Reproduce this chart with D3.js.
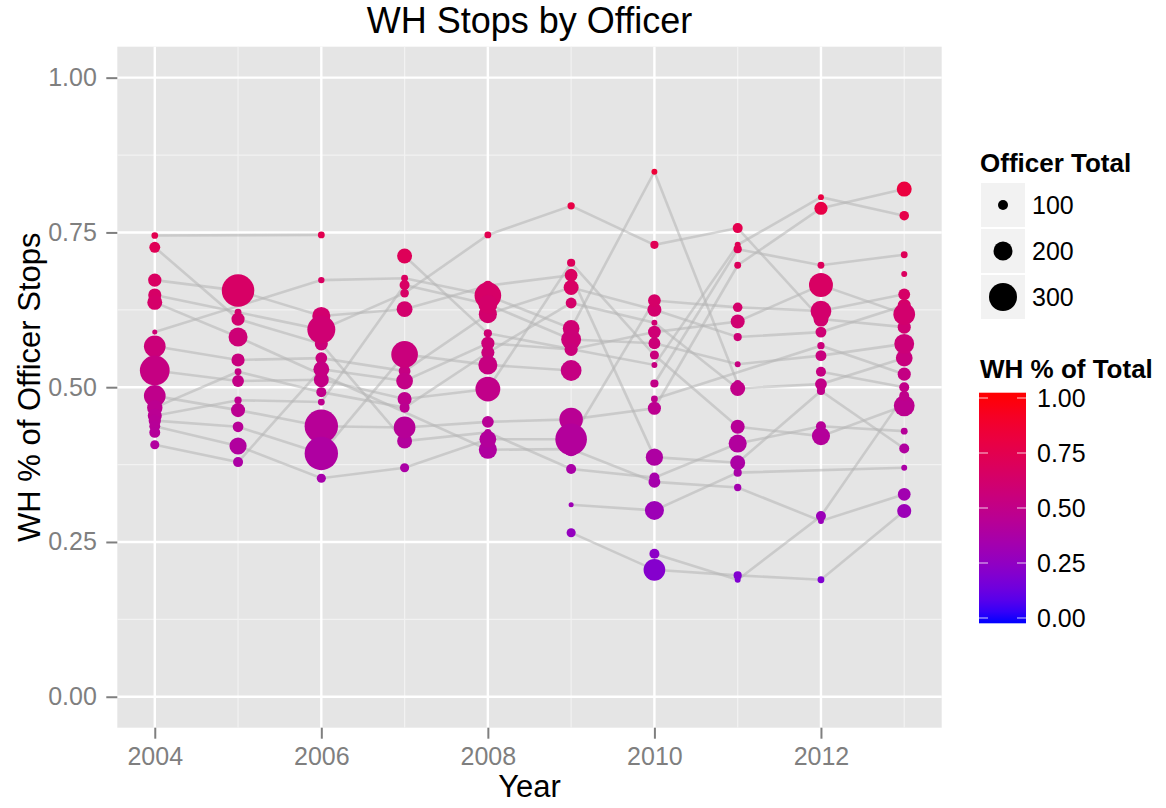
<!DOCTYPE html>
<html>
<head>
<meta charset="utf-8">
<script src="https://cdn.jsdelivr.net/npm/d3@7"></script>
<style>
	body { margin: 0; background: #fff; }
	text { font-family: "Liberation Sans", Arial, sans-serif; }
</style>
</head>
<body>
<svg id="chart"></svg>
<script>
const years = [2004, 2005, 2006, 2007, 2008, 2009, 2010, 2011, 2012, 2013];

// one row per officer, one column per year (null = no stops that year)
const whPct = [
	[.745, null, .746, null, null, null, null, null, null, null],
	[.726, .610, .570, .413, .427, .368, .354, .409, .437, .429],
	[.673, .656, .615, .626, .664, .681, .387, .378, .494, .401],
	[.649, .621, .593, .652, .746, .793, .730, .757, .610, .597],
	[.637, .581, null, null, .399, .400, .347, .338, .284, .327],
	[.589, null, .673, .676, .648, .595, .848, .506, null, null],
	[.566, .544, .547, .526, .618, .661, .625, .581, .589, .632],
	[.527, .510, .512, .481, .497, .701, .552, .436, .421, .470],
	[.486, .463, .437, .435, .444, .448, .466, .697, .789, .820],
	[.467, .525, .492, .467, .556, .636, .604, .498, .505, .547],
	[.454, .479, .476, .665, .634, .577, .571, .537, .551, .570],
	[.446, .436, .393, .553, .536, .527, null, null, null, null],
	[.437, .405, .353, .370, .416, .416, .640, .629, .623, .650],
	[.407, .379, .529, .510, .571, .561, .589, .606, .665, .618],
	[null, null, null, .712, .587, null, .536, .730, .807, .777],
	[.427, null, null, null, null, null, null, null, null, null],
	[null, null, null, null, null, .265, .205, .196, .189, .300],
	[null, null, null, null, null, .310, .301, .362, null, .370],
	[null, null, null, null, null, null, .231, .189, .292, .486],
	[null, null, null, null, null, null, .506, .723, .697, .714],
	[null, null, null, null, null, null, .481, null, .567, .521],
	[null, null, null, null, null, null, null, null, .525, .500],
	[null, null, null, null, null, null, null, null, null, .683]
];

const officerTotal = [
	[63, null, 65, null, null, null, null, null, null, null],
	[110, 135, 135, 155, 65, 100, 100, 190, 100, 65],
	[137, 350, 190, 165, 100, 130, 180, 155, 80, 100],
	[135, 65, 300, 85, 65, 70, 80, 100, 155, 135],
	[155, 200, null, null, 190, 150, 120, 70, 55, 130],
	[45, null, 60, 65, 285, 175, 55, 65, null, null],
	[230, 135, 120, 120, 190, 155, 145, 80, 110, 135],
	[320, 120, 155, 145, 265, 80, 90, 145, 190, 220],
	[230, 145, 360, 230, 120, 250, 135, 65, 135, 155],
	[160, 65, 100, 100, 135, 110, 55, 155, 120, 175],
	[145, 70, 65, 100, 200, 210, 120, 55, 110, 210],
	[125, 108, 360, 285, 200, 220, null, null, null, null],
	[110, 180, 90, 90, 175, 340, 130, 95, 220, 120],
	[90, 100, 165, 175, 135, 135, 130, 145, 255, 230],
	[null, null, null, 155, 80, null, 55, 55, 55, 95],
	[110, null, null, null, null, null, null, null, null, null],
	[null, null, null, null, null, 90, 230, 80, 65, 145],
	[null, null, null, null, null, 45, 200, 80, null, 55],
	[null, null, null, null, null, null, 100, 55, 100, 100],
	[null, null, null, null, null, null, 80, 80, 65, 65],
	[null, null, null, null, null, null, 65, null, 70, 135],
	[null, null, null, null, null, null, null, null, 100, 100],
	[null, null, null, null, null, null, null, null, null, 55]
];

const yTicks = [0, 0.25, 0.5, 0.75, 1];
const yMinor = [0.125, 0.375, 0.625, 0.875];
const xTicks = [2004, 2006, 2008, 2010, 2012];
const xMinor = [2005, 2007, 2009, 2011, 2013];
const sizeBreaks = [100, 200, 300];
const colorBreaks = [0, 0.25, 0.5, 0.75, 1];

const width = 1166;
const height = 808;
const panel = { left: 117.3, right: 941.7, top: 46.7, bottom: 727.7 };

const svg = d3.select('#chart')
	.attr('width', width)
	.attr('height', height);

const x = d3.scaleLinear()
	.domain([2003.55, 2013.45])
	.range([panel.left, panel.right]);

const y = d3.scaleLinear()
	.domain([-0.05, 1.05])
	.range([panel.bottom, panel.top]);

const r = d3.scaleLinear()
	.domain([0, 300])
	.range([0.5, 14]);

const color = d3.scaleLinear()
	.domain([0, 1])
	.range(['blue', 'red'])
	.interpolate(d3.interpolateLab);

// panel
svg.append('rect')
	.attr('x', panel.left)
	.attr('y', panel.top)
	.attr('width', panel.right - panel.left)
	.attr('height', panel.bottom - panel.top)
	.attr('fill', '#E5E5E5');

const grid = svg.append('g');
grid.selectAll('.ymin').data(yMinor).join('line')
	.attr('x1', panel.left).attr('x2', panel.right)
	.attr('y1', d => y(d)).attr('y2', d => y(d))
	.attr('stroke', '#F2F2F2').attr('stroke-width', 1.2);
grid.selectAll('.xmin').data(xMinor).join('line')
	.attr('y1', panel.top).attr('y2', panel.bottom)
	.attr('x1', d => x(d)).attr('x2', d => x(d))
	.attr('stroke', '#F2F2F2').attr('stroke-width', 1.2);
grid.selectAll('.ymaj').data(yTicks).join('line')
	.attr('x1', panel.left).attr('x2', panel.right)
	.attr('y1', d => y(d)).attr('y2', d => y(d))
	.attr('stroke', '#fff').attr('stroke-width', 2.4);
grid.selectAll('.xmaj').data(xTicks).join('line')
	.attr('y1', panel.top).attr('y2', panel.bottom)
	.attr('x1', d => x(d)).attr('x2', d => x(d))
	.attr('stroke', '#fff').attr('stroke-width', 2.4);

// officers
const officers = whPct.map((row, i) => row
	.map((v, j) => ({ year: years[j], pct: v, total: officerTotal[i][j] }))
	.filter(d => d.pct !== null));

const line = d3.line()
	.x(d => x(d.year))
	.y(d => y(d.pct));

svg.append('g').selectAll('path')
	.data(officers.filter(o => o.length > 1))
	.join('path')
	.attr('d', line)
	.attr('fill', 'none')
	.attr('stroke', '#B5B5B5')
	.attr('stroke-opacity', 0.55)
	.attr('stroke-width', 2.6);

svg.append('g').selectAll('circle')
	.data(officers.flat())
	.join('circle')
	.attr('cx', d => x(d.year))
	.attr('cy', d => y(d.pct))
	.attr('r', d => r(d.total))
	.attr('fill', d => color(d.pct));

// axes
const yAxis = svg.append('g')
	.attr('transform', `translate(${panel.left},0)`)
	.call(d3.axisLeft(y).tickValues(yTicks).tickFormat(d3.format('.2f')).tickSize(11).tickPadding(9.5));
const xAxis = svg.append('g')
	.attr('transform', `translate(0,${panel.bottom})`)
	.call(d3.axisBottom(x).tickValues(xTicks).tickFormat(d3.format('d')).tickSize(11).tickPadding(8.5));

[yAxis, xAxis].forEach(a => {
	a.select('.domain').remove();
	a.selectAll('line').attr('stroke', '#7F7F7F').attr('stroke-width', 2);
	a.selectAll('text')
		.attr('fill', '#7F7F7F')
		.style('font-size', '25px')
		.style('font-family', '"Liberation Sans", Arial, sans-serif');
});

// titles
svg.append('text')
	.attr('x', (panel.left + panel.right) / 2)
	.attr('y', 33)
	.attr('text-anchor', 'middle')
	.style('font-size', '36px')
	.text('WH Stops by Officer');

svg.append('text')
	.attr('x', (panel.left + panel.right) / 2)
	.attr('y', 797)
	.attr('text-anchor', 'middle')
	.style('font-size', '31px')
	.text('Year');

svg.append('text')
	.attr('transform', `translate(40,${(panel.top + panel.bottom) / 2}) rotate(-90)`)
	.attr('text-anchor', 'middle')
	.style('font-size', '31px')
	.text('WH % of Officer Stops');

// size legend
const legend = svg.append('g');
legend.append('text')
	.attr('x', 980).attr('y', 172)
	.style('font-size', '26px').style('font-weight', 'bold')
	.text('Officer Total');

const keys = legend.selectAll('.key').data(sizeBreaks).join('g')
	.attr('transform', (d, i) => `translate(981,${183 + i * 46})`);
keys.append('rect')
	.attr('width', 44).attr('height', 44)
	.attr('fill', '#F2F2F2');
keys.append('circle')
	.attr('cx', 22).attr('cy', 22)
	.attr('r', d => r(d))
	.attr('fill', '#000');
keys.append('text')
	.attr('x', 51).attr('y', 22).attr('dy', '0.36em')
	.style('font-size', '25px')
	.text(d => d);

// colour legend
legend.append('text')
	.attr('x', 980).attr('y', 378)
	.style('font-size', '26px').style('font-weight', 'bold')
	.text('WH % of Total');

const bar = d3.scaleLinear().domain([0, 1]).range([618, 398]);
const barTop = 392.7, barBottom = 623.3;

const grad = svg.append('defs').append('linearGradient')
	.attr('id', 'wh-grad')
	.attr('x1', 0).attr('x2', 0).attr('y1', 0).attr('y2', 1);
grad.selectAll('stop').data(d3.range(0, 1.001, 0.05)).join('stop')
	.attr('offset', t => t)
	.attr('stop-color', t => color(Math.max(0, Math.min(1, bar.invert(barTop + t * (barBottom - barTop))))));

legend.append('rect')
	.attr('x', 979).attr('y', barTop)
	.attr('width', 47).attr('height', barBottom - barTop)
	.attr('fill', 'url(#wh-grad)');

const cticks = legend.selectAll('.ctick').data(colorBreaks).join('g')
	.attr('transform', d => `translate(0,${bar(d)})`);
cticks.append('line')
	.attr('x1', 979).attr('x2', 988)
	.attr('stroke', '#fff').attr('stroke-opacity', 0.8).attr('stroke-width', 1);
cticks.append('line')
	.attr('x1', 1017).attr('x2', 1026)
	.attr('stroke', '#fff').attr('stroke-opacity', 0.8).attr('stroke-width', 1);
cticks.append('text')
	.attr('x', 1037).attr('dy', '0.36em')
	.style('font-size', '25px')
	.text(d3.format('.2f'));
</script>
</body>
</html>
